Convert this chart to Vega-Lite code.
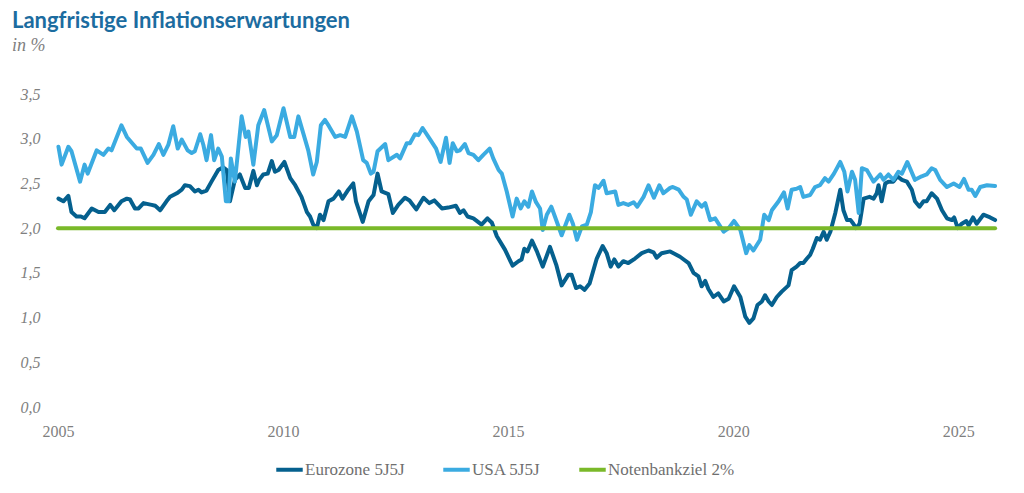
{
  "$schema": "https://vega.github.io/schema/vega-lite/v6.json",
  "width": 938,
  "height": 313,
  "autosize": "none",
  "padding": {"left": 58, "top": 94, "right": 28, "bottom": 86},
  "title": {
    "text": "Langfristige Inflationserwartungen",
    "subtitle": "in %",
    "anchor": "start",
    "frame": "group",
    "dx": -46,
    "offset": 30,
    "font": "Lato",
    "fontSize": 22,
    "fontWeight": "bold",
    "color": "#1C6CA0",
    "subtitleFont": "Liberation Serif",
    "subtitleFontStyle": "italic",
    "subtitleFontSize": 18,
    "subtitleColor": "#7F7F7F",
    "subtitlePadding": 4
  },
  "config": {
    "view": {"stroke": null},
    "axis": {"grid": false, "domain": false, "ticks": false, "labelFont": "Liberation Serif", "labelFontSize": 16, "labelColor": "#7F7F7F"}
  },
  "data": {
    "values": [
      {"serie": "Eurozone 5J5J", "jahr": 2005.01, "wert": 2.33},
      {"serie": "Eurozone 5J5J", "jahr": 2005.12, "wert": 2.30},
      {"serie": "Eurozone 5J5J", "jahr": 2005.23, "wert": 2.36},
      {"serie": "Eurozone 5J5J", "jahr": 2005.30, "wert": 2.18},
      {"serie": "Eurozone 5J5J", "jahr": 2005.41, "wert": 2.13},
      {"serie": "Eurozone 5J5J", "jahr": 2005.51, "wert": 2.13},
      {"serie": "Eurozone 5J5J", "jahr": 2005.59, "wert": 2.11},
      {"serie": "Eurozone 5J5J", "jahr": 2005.75, "wert": 2.22},
      {"serie": "Eurozone 5J5J", "jahr": 2005.90, "wert": 2.18},
      {"serie": "Eurozone 5J5J", "jahr": 2006.04, "wert": 2.18},
      {"serie": "Eurozone 5J5J", "jahr": 2006.16, "wert": 2.26},
      {"serie": "Eurozone 5J5J", "jahr": 2006.25, "wert": 2.20},
      {"serie": "Eurozone 5J5J", "jahr": 2006.41, "wert": 2.30},
      {"serie": "Eurozone 5J5J", "jahr": 2006.53, "wert": 2.33},
      {"serie": "Eurozone 5J5J", "jahr": 2006.60, "wert": 2.32},
      {"serie": "Eurozone 5J5J", "jahr": 2006.71, "wert": 2.22},
      {"serie": "Eurozone 5J5J", "jahr": 2006.79, "wert": 2.22},
      {"serie": "Eurozone 5J5J", "jahr": 2006.90, "wert": 2.28},
      {"serie": "Eurozone 5J5J", "jahr": 2007.08, "wert": 2.26},
      {"serie": "Eurozone 5J5J", "jahr": 2007.16, "wert": 2.25},
      {"serie": "Eurozone 5J5J", "jahr": 2007.27, "wert": 2.20},
      {"serie": "Eurozone 5J5J", "jahr": 2007.41, "wert": 2.30},
      {"serie": "Eurozone 5J5J", "jahr": 2007.49, "wert": 2.35},
      {"serie": "Eurozone 5J5J", "jahr": 2007.64, "wert": 2.39},
      {"serie": "Eurozone 5J5J", "jahr": 2007.75, "wert": 2.43},
      {"serie": "Eurozone 5J5J", "jahr": 2007.82, "wert": 2.48},
      {"serie": "Eurozone 5J5J", "jahr": 2007.93, "wert": 2.47},
      {"serie": "Eurozone 5J5J", "jahr": 2008.04, "wert": 2.41},
      {"serie": "Eurozone 5J5J", "jahr": 2008.12, "wert": 2.43},
      {"serie": "Eurozone 5J5J", "jahr": 2008.19, "wert": 2.40},
      {"serie": "Eurozone 5J5J", "jahr": 2008.30, "wert": 2.42},
      {"serie": "Eurozone 5J5J", "jahr": 2008.41, "wert": 2.52},
      {"serie": "Eurozone 5J5J", "jahr": 2008.56, "wert": 2.65},
      {"serie": "Eurozone 5J5J", "jahr": 2008.67, "wert": 2.68},
      {"serie": "Eurozone 5J5J", "jahr": 2008.75, "wert": 2.65},
      {"serie": "Eurozone 5J5J", "jahr": 2008.82, "wert": 2.30},
      {"serie": "Eurozone 5J5J", "jahr": 2008.93, "wert": 2.54},
      {"serie": "Eurozone 5J5J", "jahr": 2009.04, "wert": 2.60},
      {"serie": "Eurozone 5J5J", "jahr": 2009.16, "wert": 2.45},
      {"serie": "Eurozone 5J5J", "jahr": 2009.24, "wert": 2.45},
      {"serie": "Eurozone 5J5J", "jahr": 2009.34, "wert": 2.64},
      {"serie": "Eurozone 5J5J", "jahr": 2009.42, "wert": 2.48},
      {"serie": "Eurozone 5J5J", "jahr": 2009.47, "wert": 2.54},
      {"serie": "Eurozone 5J5J", "jahr": 2009.56, "wert": 2.60},
      {"serie": "Eurozone 5J5J", "jahr": 2009.66, "wert": 2.61},
      {"serie": "Eurozone 5J5J", "jahr": 2009.75, "wert": 2.75},
      {"serie": "Eurozone 5J5J", "jahr": 2009.82, "wert": 2.63},
      {"serie": "Eurozone 5J5J", "jahr": 2009.90, "wert": 2.65},
      {"serie": "Eurozone 5J5J", "jahr": 2010.03, "wert": 2.74},
      {"serie": "Eurozone 5J5J", "jahr": 2010.16, "wert": 2.56},
      {"serie": "Eurozone 5J5J", "jahr": 2010.27, "wert": 2.48},
      {"serie": "Eurozone 5J5J", "jahr": 2010.41, "wert": 2.35},
      {"serie": "Eurozone 5J5J", "jahr": 2010.53, "wert": 2.18},
      {"serie": "Eurozone 5J5J", "jahr": 2010.60, "wert": 2.13},
      {"serie": "Eurozone 5J5J", "jahr": 2010.67, "wert": 2.04},
      {"serie": "Eurozone 5J5J", "jahr": 2010.75, "wert": 2.00},
      {"serie": "Eurozone 5J5J", "jahr": 2010.82, "wert": 2.15},
      {"serie": "Eurozone 5J5J", "jahr": 2010.90, "wert": 2.09},
      {"serie": "Eurozone 5J5J", "jahr": 2011.01, "wert": 2.30},
      {"serie": "Eurozone 5J5J", "jahr": 2011.12, "wert": 2.33},
      {"serie": "Eurozone 5J5J", "jahr": 2011.24, "wert": 2.41},
      {"serie": "Eurozone 5J5J", "jahr": 2011.32, "wert": 2.33},
      {"serie": "Eurozone 5J5J", "jahr": 2011.45, "wert": 2.43},
      {"serie": "Eurozone 5J5J", "jahr": 2011.56, "wert": 2.50},
      {"serie": "Eurozone 5J5J", "jahr": 2011.62, "wert": 2.30},
      {"serie": "Eurozone 5J5J", "jahr": 2011.77, "wert": 2.07},
      {"serie": "Eurozone 5J5J", "jahr": 2011.90, "wert": 2.30},
      {"serie": "Eurozone 5J5J", "jahr": 2012.01, "wert": 2.37},
      {"serie": "Eurozone 5J5J", "jahr": 2012.10, "wert": 2.61},
      {"serie": "Eurozone 5J5J", "jahr": 2012.19, "wert": 2.41},
      {"serie": "Eurozone 5J5J", "jahr": 2012.34, "wert": 2.38},
      {"serie": "Eurozone 5J5J", "jahr": 2012.44, "wert": 2.17},
      {"serie": "Eurozone 5J5J", "jahr": 2012.56, "wert": 2.26},
      {"serie": "Eurozone 5J5J", "jahr": 2012.71, "wert": 2.34},
      {"serie": "Eurozone 5J5J", "jahr": 2012.81, "wert": 2.31},
      {"serie": "Eurozone 5J5J", "jahr": 2012.96, "wert": 2.21},
      {"serie": "Eurozone 5J5J", "jahr": 2013.12, "wert": 2.34},
      {"serie": "Eurozone 5J5J", "jahr": 2013.25, "wert": 2.28},
      {"serie": "Eurozone 5J5J", "jahr": 2013.36, "wert": 2.31},
      {"serie": "Eurozone 5J5J", "jahr": 2013.53, "wert": 2.22},
      {"serie": "Eurozone 5J5J", "jahr": 2013.67, "wert": 2.23},
      {"serie": "Eurozone 5J5J", "jahr": 2013.84, "wert": 2.25},
      {"serie": "Eurozone 5J5J", "jahr": 2013.93, "wert": 2.17},
      {"serie": "Eurozone 5J5J", "jahr": 2014.01, "wert": 2.20},
      {"serie": "Eurozone 5J5J", "jahr": 2014.10, "wert": 2.13},
      {"serie": "Eurozone 5J5J", "jahr": 2014.23, "wert": 2.11},
      {"serie": "Eurozone 5J5J", "jahr": 2014.41, "wert": 2.04},
      {"serie": "Eurozone 5J5J", "jahr": 2014.54, "wert": 2.11},
      {"serie": "Eurozone 5J5J", "jahr": 2014.64, "wert": 2.06},
      {"serie": "Eurozone 5J5J", "jahr": 2014.75, "wert": 1.91},
      {"serie": "Eurozone 5J5J", "jahr": 2014.93, "wert": 1.76},
      {"serie": "Eurozone 5J5J", "jahr": 2015.10, "wert": 1.58},
      {"serie": "Eurozone 5J5J", "jahr": 2015.23, "wert": 1.63},
      {"serie": "Eurozone 5J5J", "jahr": 2015.30, "wert": 1.65},
      {"serie": "Eurozone 5J5J", "jahr": 2015.36, "wert": 1.77},
      {"serie": "Eurozone 5J5J", "jahr": 2015.43, "wert": 1.74},
      {"serie": "Eurozone 5J5J", "jahr": 2015.53, "wert": 1.86},
      {"serie": "Eurozone 5J5J", "jahr": 2015.64, "wert": 1.74},
      {"serie": "Eurozone 5J5J", "jahr": 2015.77, "wert": 1.57},
      {"serie": "Eurozone 5J5J", "jahr": 2015.93, "wert": 1.79},
      {"serie": "Eurozone 5J5J", "jahr": 2016.07, "wert": 1.59},
      {"serie": "Eurozone 5J5J", "jahr": 2016.19, "wert": 1.36},
      {"serie": "Eurozone 5J5J", "jahr": 2016.34, "wert": 1.48},
      {"serie": "Eurozone 5J5J", "jahr": 2016.41, "wert": 1.48},
      {"serie": "Eurozone 5J5J", "jahr": 2016.51, "wert": 1.33},
      {"serie": "Eurozone 5J5J", "jahr": 2016.60, "wert": 1.35},
      {"serie": "Eurozone 5J5J", "jahr": 2016.70, "wert": 1.31},
      {"serie": "Eurozone 5J5J", "jahr": 2016.81, "wert": 1.38},
      {"serie": "Eurozone 5J5J", "jahr": 2016.97, "wert": 1.66},
      {"serie": "Eurozone 5J5J", "jahr": 2017.10, "wert": 1.80},
      {"serie": "Eurozone 5J5J", "jahr": 2017.19, "wert": 1.72},
      {"serie": "Eurozone 5J5J", "jahr": 2017.28, "wert": 1.57},
      {"serie": "Eurozone 5J5J", "jahr": 2017.36, "wert": 1.65},
      {"serie": "Eurozone 5J5J", "jahr": 2017.45, "wert": 1.57},
      {"serie": "Eurozone 5J5J", "jahr": 2017.56, "wert": 1.63},
      {"serie": "Eurozone 5J5J", "jahr": 2017.67, "wert": 1.61},
      {"serie": "Eurozone 5J5J", "jahr": 2017.82, "wert": 1.66},
      {"serie": "Eurozone 5J5J", "jahr": 2017.97, "wert": 1.72},
      {"serie": "Eurozone 5J5J", "jahr": 2018.12, "wert": 1.75},
      {"serie": "Eurozone 5J5J", "jahr": 2018.23, "wert": 1.73},
      {"serie": "Eurozone 5J5J", "jahr": 2018.30, "wert": 1.67},
      {"serie": "Eurozone 5J5J", "jahr": 2018.41, "wert": 1.72},
      {"serie": "Eurozone 5J5J", "jahr": 2018.60, "wert": 1.74},
      {"serie": "Eurozone 5J5J", "jahr": 2018.82, "wert": 1.68},
      {"serie": "Eurozone 5J5J", "jahr": 2019.01, "wert": 1.61},
      {"serie": "Eurozone 5J5J", "jahr": 2019.12, "wert": 1.50},
      {"serie": "Eurozone 5J5J", "jahr": 2019.23, "wert": 1.46},
      {"serie": "Eurozone 5J5J", "jahr": 2019.30, "wert": 1.35},
      {"serie": "Eurozone 5J5J", "jahr": 2019.38, "wert": 1.41},
      {"serie": "Eurozone 5J5J", "jahr": 2019.45, "wert": 1.32},
      {"serie": "Eurozone 5J5J", "jahr": 2019.56, "wert": 1.23},
      {"serie": "Eurozone 5J5J", "jahr": 2019.67, "wert": 1.27},
      {"serie": "Eurozone 5J5J", "jahr": 2019.79, "wert": 1.18},
      {"serie": "Eurozone 5J5J", "jahr": 2019.90, "wert": 1.21},
      {"serie": "Eurozone 5J5J", "jahr": 2020.02, "wert": 1.35},
      {"serie": "Eurozone 5J5J", "jahr": 2020.16, "wert": 1.23},
      {"serie": "Eurozone 5J5J", "jahr": 2020.27, "wert": 1.01},
      {"serie": "Eurozone 5J5J", "jahr": 2020.36, "wert": 0.94},
      {"serie": "Eurozone 5J5J", "jahr": 2020.45, "wert": 0.99},
      {"serie": "Eurozone 5J5J", "jahr": 2020.54, "wert": 1.14},
      {"serie": "Eurozone 5J5J", "jahr": 2020.64, "wert": 1.18},
      {"serie": "Eurozone 5J5J", "jahr": 2020.71, "wert": 1.25},
      {"serie": "Eurozone 5J5J", "jahr": 2020.79, "wert": 1.18},
      {"serie": "Eurozone 5J5J", "jahr": 2020.86, "wert": 1.14},
      {"serie": "Eurozone 5J5J", "jahr": 2020.97, "wert": 1.23},
      {"serie": "Eurozone 5J5J", "jahr": 2021.08, "wert": 1.29},
      {"serie": "Eurozone 5J5J", "jahr": 2021.23, "wert": 1.36},
      {"serie": "Eurozone 5J5J", "jahr": 2021.30, "wert": 1.53},
      {"serie": "Eurozone 5J5J", "jahr": 2021.41, "wert": 1.57},
      {"serie": "Eurozone 5J5J", "jahr": 2021.49, "wert": 1.61},
      {"serie": "Eurozone 5J5J", "jahr": 2021.56, "wert": 1.61},
      {"serie": "Eurozone 5J5J", "jahr": 2021.64, "wert": 1.66},
      {"serie": "Eurozone 5J5J", "jahr": 2021.71, "wert": 1.70},
      {"serie": "Eurozone 5J5J", "jahr": 2021.77, "wert": 1.77},
      {"serie": "Eurozone 5J5J", "jahr": 2021.86, "wert": 1.89},
      {"serie": "Eurozone 5J5J", "jahr": 2021.93, "wert": 1.87},
      {"serie": "Eurozone 5J5J", "jahr": 2022.01, "wert": 1.96},
      {"serie": "Eurozone 5J5J", "jahr": 2022.08, "wert": 1.87},
      {"serie": "Eurozone 5J5J", "jahr": 2022.16, "wert": 1.96},
      {"serie": "Eurozone 5J5J", "jahr": 2022.27, "wert": 2.17},
      {"serie": "Eurozone 5J5J", "jahr": 2022.38, "wert": 2.43},
      {"serie": "Eurozone 5J5J", "jahr": 2022.45, "wert": 2.20},
      {"serie": "Eurozone 5J5J", "jahr": 2022.53, "wert": 2.09},
      {"serie": "Eurozone 5J5J", "jahr": 2022.61, "wert": 2.09},
      {"serie": "Eurozone 5J5J", "jahr": 2022.67, "wert": 2.05},
      {"serie": "Eurozone 5J5J", "jahr": 2022.73, "wert": 2.00},
      {"serie": "Eurozone 5J5J", "jahr": 2022.81, "wert": 2.05},
      {"serie": "Eurozone 5J5J", "jahr": 2022.90, "wert": 2.33},
      {"serie": "Eurozone 5J5J", "jahr": 2023.03, "wert": 2.35},
      {"serie": "Eurozone 5J5J", "jahr": 2023.12, "wert": 2.33},
      {"serie": "Eurozone 5J5J", "jahr": 2023.19, "wert": 2.39},
      {"serie": "Eurozone 5J5J", "jahr": 2023.23, "wert": 2.48},
      {"serie": "Eurozone 5J5J", "jahr": 2023.30, "wert": 2.30},
      {"serie": "Eurozone 5J5J", "jahr": 2023.38, "wert": 2.50},
      {"serie": "Eurozone 5J5J", "jahr": 2023.45, "wert": 2.52},
      {"serie": "Eurozone 5J5J", "jahr": 2023.56, "wert": 2.52},
      {"serie": "Eurozone 5J5J", "jahr": 2023.65, "wert": 2.58},
      {"serie": "Eurozone 5J5J", "jahr": 2023.75, "wert": 2.54},
      {"serie": "Eurozone 5J5J", "jahr": 2023.86, "wert": 2.52},
      {"serie": "Eurozone 5J5J", "jahr": 2023.97, "wert": 2.43},
      {"serie": "Eurozone 5J5J", "jahr": 2024.04, "wert": 2.30},
      {"serie": "Eurozone 5J5J", "jahr": 2024.14, "wert": 2.24},
      {"serie": "Eurozone 5J5J", "jahr": 2024.23, "wert": 2.30},
      {"serie": "Eurozone 5J5J", "jahr": 2024.30, "wert": 2.30},
      {"serie": "Eurozone 5J5J", "jahr": 2024.41, "wert": 2.39},
      {"serie": "Eurozone 5J5J", "jahr": 2024.53, "wert": 2.33},
      {"serie": "Eurozone 5J5J", "jahr": 2024.64, "wert": 2.20},
      {"serie": "Eurozone 5J5J", "jahr": 2024.75, "wert": 2.11},
      {"serie": "Eurozone 5J5J", "jahr": 2024.86, "wert": 2.09},
      {"serie": "Eurozone 5J5J", "jahr": 2024.91, "wert": 2.12},
      {"serie": "Eurozone 5J5J", "jahr": 2024.99, "wert": 2.00},
      {"serie": "Eurozone 5J5J", "jahr": 2025.08, "wert": 2.05},
      {"serie": "Eurozone 5J5J", "jahr": 2025.18, "wert": 2.08},
      {"serie": "Eurozone 5J5J", "jahr": 2025.23, "wert": 2.03},
      {"serie": "Eurozone 5J5J", "jahr": 2025.33, "wert": 2.12},
      {"serie": "Eurozone 5J5J", "jahr": 2025.41, "wert": 2.05},
      {"serie": "Eurozone 5J5J", "jahr": 2025.56, "wert": 2.15},
      {"serie": "Eurozone 5J5J", "jahr": 2025.71, "wert": 2.12},
      {"serie": "Eurozone 5J5J", "jahr": 2025.82, "wert": 2.09},
      {"serie": "USA 5J5J", "jahr": 2005.01, "wert": 2.91},
      {"serie": "USA 5J5J", "jahr": 2005.08, "wert": 2.71},
      {"serie": "USA 5J5J", "jahr": 2005.23, "wert": 2.91},
      {"serie": "USA 5J5J", "jahr": 2005.30, "wert": 2.86},
      {"serie": "USA 5J5J", "jahr": 2005.49, "wert": 2.52},
      {"serie": "USA 5J5J", "jahr": 2005.59, "wert": 2.71},
      {"serie": "USA 5J5J", "jahr": 2005.66, "wert": 2.61},
      {"serie": "USA 5J5J", "jahr": 2005.86, "wert": 2.87},
      {"serie": "USA 5J5J", "jahr": 2006.01, "wert": 2.82},
      {"serie": "USA 5J5J", "jahr": 2006.12, "wert": 2.89},
      {"serie": "USA 5J5J", "jahr": 2006.19, "wert": 2.87},
      {"serie": "USA 5J5J", "jahr": 2006.41, "wert": 3.15},
      {"serie": "USA 5J5J", "jahr": 2006.53, "wert": 3.02},
      {"serie": "USA 5J5J", "jahr": 2006.75, "wert": 2.89},
      {"serie": "USA 5J5J", "jahr": 2006.84, "wert": 2.89},
      {"serie": "USA 5J5J", "jahr": 2006.99, "wert": 2.73},
      {"serie": "USA 5J5J", "jahr": 2007.12, "wert": 2.82},
      {"serie": "USA 5J5J", "jahr": 2007.24, "wert": 2.94},
      {"serie": "USA 5J5J", "jahr": 2007.34, "wert": 2.82},
      {"serie": "USA 5J5J", "jahr": 2007.45, "wert": 2.93},
      {"serie": "USA 5J5J", "jahr": 2007.56, "wert": 3.14},
      {"serie": "USA 5J5J", "jahr": 2007.66, "wert": 2.89},
      {"serie": "USA 5J5J", "jahr": 2007.75, "wert": 2.99},
      {"serie": "USA 5J5J", "jahr": 2007.88, "wert": 2.87},
      {"serie": "USA 5J5J", "jahr": 2007.97, "wert": 2.84},
      {"serie": "USA 5J5J", "jahr": 2008.04, "wert": 2.86},
      {"serie": "USA 5J5J", "jahr": 2008.16, "wert": 3.05},
      {"serie": "USA 5J5J", "jahr": 2008.23, "wert": 2.93},
      {"serie": "USA 5J5J", "jahr": 2008.30, "wert": 2.76},
      {"serie": "USA 5J5J", "jahr": 2008.40, "wert": 3.04},
      {"serie": "USA 5J5J", "jahr": 2008.47, "wert": 2.76},
      {"serie": "USA 5J5J", "jahr": 2008.56, "wert": 2.89},
      {"serie": "USA 5J5J", "jahr": 2008.64, "wert": 2.80},
      {"serie": "USA 5J5J", "jahr": 2008.73, "wert": 2.30},
      {"serie": "USA 5J5J", "jahr": 2008.79, "wert": 2.30},
      {"serie": "USA 5J5J", "jahr": 2008.84, "wert": 2.78},
      {"serie": "USA 5J5J", "jahr": 2008.93, "wert": 2.52},
      {"serie": "USA 5J5J", "jahr": 2009.08, "wert": 3.25},
      {"serie": "USA 5J5J", "jahr": 2009.17, "wert": 3.02},
      {"serie": "USA 5J5J", "jahr": 2009.23, "wert": 3.08},
      {"serie": "USA 5J5J", "jahr": 2009.34, "wert": 2.71},
      {"serie": "USA 5J5J", "jahr": 2009.45, "wert": 3.15},
      {"serie": "USA 5J5J", "jahr": 2009.58, "wert": 3.32},
      {"serie": "USA 5J5J", "jahr": 2009.75, "wert": 2.97},
      {"serie": "USA 5J5J", "jahr": 2009.86, "wert": 3.04},
      {"serie": "USA 5J5J", "jahr": 2010.01, "wert": 3.34},
      {"serie": "USA 5J5J", "jahr": 2010.16, "wert": 3.02},
      {"serie": "USA 5J5J", "jahr": 2010.25, "wert": 3.02},
      {"serie": "USA 5J5J", "jahr": 2010.34, "wert": 3.25},
      {"serie": "USA 5J5J", "jahr": 2010.45, "wert": 3.06},
      {"serie": "USA 5J5J", "jahr": 2010.56, "wert": 2.87},
      {"serie": "USA 5J5J", "jahr": 2010.67, "wert": 2.60},
      {"serie": "USA 5J5J", "jahr": 2010.75, "wert": 2.74},
      {"serie": "USA 5J5J", "jahr": 2010.84, "wert": 3.15},
      {"serie": "USA 5J5J", "jahr": 2010.93, "wert": 3.21},
      {"serie": "USA 5J5J", "jahr": 2011.02, "wert": 3.14},
      {"serie": "USA 5J5J", "jahr": 2011.16, "wert": 3.02},
      {"serie": "USA 5J5J", "jahr": 2011.27, "wert": 3.04},
      {"serie": "USA 5J5J", "jahr": 2011.38, "wert": 3.02},
      {"serie": "USA 5J5J", "jahr": 2011.53, "wert": 3.25},
      {"serie": "USA 5J5J", "jahr": 2011.64, "wert": 3.08},
      {"serie": "USA 5J5J", "jahr": 2011.78, "wert": 2.76},
      {"serie": "USA 5J5J", "jahr": 2011.86, "wert": 2.73},
      {"serie": "USA 5J5J", "jahr": 2011.95, "wert": 2.61},
      {"serie": "USA 5J5J", "jahr": 2012.01, "wert": 2.63},
      {"serie": "USA 5J5J", "jahr": 2012.10, "wert": 2.86},
      {"serie": "USA 5J5J", "jahr": 2012.27, "wert": 2.94},
      {"serie": "USA 5J5J", "jahr": 2012.34, "wert": 2.76},
      {"serie": "USA 5J5J", "jahr": 2012.53, "wert": 2.82},
      {"serie": "USA 5J5J", "jahr": 2012.60, "wert": 2.78},
      {"serie": "USA 5J5J", "jahr": 2012.75, "wert": 2.95},
      {"serie": "USA 5J5J", "jahr": 2012.82, "wert": 2.95},
      {"serie": "USA 5J5J", "jahr": 2012.93, "wert": 3.05},
      {"serie": "USA 5J5J", "jahr": 2013.01, "wert": 3.04},
      {"serie": "USA 5J5J", "jahr": 2013.10, "wert": 3.12},
      {"serie": "USA 5J5J", "jahr": 2013.27, "wert": 2.99},
      {"serie": "USA 5J5J", "jahr": 2013.40, "wert": 2.89},
      {"serie": "USA 5J5J", "jahr": 2013.50, "wert": 2.74},
      {"serie": "USA 5J5J", "jahr": 2013.62, "wert": 3.01},
      {"serie": "USA 5J5J", "jahr": 2013.70, "wert": 2.73},
      {"serie": "USA 5J5J", "jahr": 2013.77, "wert": 2.95},
      {"serie": "USA 5J5J", "jahr": 2013.86, "wert": 2.86},
      {"serie": "USA 5J5J", "jahr": 2013.93, "wert": 2.87},
      {"serie": "USA 5J5J", "jahr": 2014.04, "wert": 2.94},
      {"serie": "USA 5J5J", "jahr": 2014.12, "wert": 2.84},
      {"serie": "USA 5J5J", "jahr": 2014.23, "wert": 2.82},
      {"serie": "USA 5J5J", "jahr": 2014.34, "wert": 2.76},
      {"serie": "USA 5J5J", "jahr": 2014.45, "wert": 2.82},
      {"serie": "USA 5J5J", "jahr": 2014.59, "wert": 2.89},
      {"serie": "USA 5J5J", "jahr": 2014.67, "wert": 2.78},
      {"serie": "USA 5J5J", "jahr": 2014.79, "wert": 2.65},
      {"serie": "USA 5J5J", "jahr": 2014.86, "wert": 2.61},
      {"serie": "USA 5J5J", "jahr": 2014.97, "wert": 2.41},
      {"serie": "USA 5J5J", "jahr": 2015.10, "wert": 2.13},
      {"serie": "USA 5J5J", "jahr": 2015.19, "wert": 2.33},
      {"serie": "USA 5J5J", "jahr": 2015.28, "wert": 2.22},
      {"serie": "USA 5J5J", "jahr": 2015.36, "wert": 2.30},
      {"serie": "USA 5J5J", "jahr": 2015.45, "wert": 2.24},
      {"serie": "USA 5J5J", "jahr": 2015.53, "wert": 2.41},
      {"serie": "USA 5J5J", "jahr": 2015.62, "wert": 2.29},
      {"serie": "USA 5J5J", "jahr": 2015.71, "wert": 2.22},
      {"serie": "USA 5J5J", "jahr": 2015.77, "wert": 1.98},
      {"serie": "USA 5J5J", "jahr": 2015.86, "wert": 2.15},
      {"serie": "USA 5J5J", "jahr": 2015.96, "wert": 2.24},
      {"serie": "USA 5J5J", "jahr": 2016.04, "wert": 2.13},
      {"serie": "USA 5J5J", "jahr": 2016.19, "wert": 1.92},
      {"serie": "USA 5J5J", "jahr": 2016.36, "wert": 2.15},
      {"serie": "USA 5J5J", "jahr": 2016.44, "wert": 2.05},
      {"serie": "USA 5J5J", "jahr": 2016.53, "wert": 1.87},
      {"serie": "USA 5J5J", "jahr": 2016.64, "wert": 2.02},
      {"serie": "USA 5J5J", "jahr": 2016.75, "wert": 2.04},
      {"serie": "USA 5J5J", "jahr": 2016.84, "wert": 2.18},
      {"serie": "USA 5J5J", "jahr": 2016.93, "wert": 2.48},
      {"serie": "USA 5J5J", "jahr": 2017.01, "wert": 2.45},
      {"serie": "USA 5J5J", "jahr": 2017.12, "wert": 2.53},
      {"serie": "USA 5J5J", "jahr": 2017.19, "wert": 2.39},
      {"serie": "USA 5J5J", "jahr": 2017.38, "wert": 2.41},
      {"serie": "USA 5J5J", "jahr": 2017.45, "wert": 2.26},
      {"serie": "USA 5J5J", "jahr": 2017.56, "wert": 2.28},
      {"serie": "USA 5J5J", "jahr": 2017.67, "wert": 2.26},
      {"serie": "USA 5J5J", "jahr": 2017.79, "wert": 2.29},
      {"serie": "USA 5J5J", "jahr": 2017.87, "wert": 2.24},
      {"serie": "USA 5J5J", "jahr": 2018.01, "wert": 2.35},
      {"serie": "USA 5J5J", "jahr": 2018.12, "wert": 2.48},
      {"serie": "USA 5J5J", "jahr": 2018.24, "wert": 2.34},
      {"serie": "USA 5J5J", "jahr": 2018.36, "wert": 2.48},
      {"serie": "USA 5J5J", "jahr": 2018.45, "wert": 2.39},
      {"serie": "USA 5J5J", "jahr": 2018.60, "wert": 2.45},
      {"serie": "USA 5J5J", "jahr": 2018.66, "wert": 2.46},
      {"serie": "USA 5J5J", "jahr": 2018.79, "wert": 2.43},
      {"serie": "USA 5J5J", "jahr": 2018.90, "wert": 2.35},
      {"serie": "USA 5J5J", "jahr": 2018.97, "wert": 2.32},
      {"serie": "USA 5J5J", "jahr": 2019.06, "wert": 2.15},
      {"serie": "USA 5J5J", "jahr": 2019.19, "wert": 2.30},
      {"serie": "USA 5J5J", "jahr": 2019.30, "wert": 2.24},
      {"serie": "USA 5J5J", "jahr": 2019.38, "wert": 2.28},
      {"serie": "USA 5J5J", "jahr": 2019.49, "wert": 2.09},
      {"serie": "USA 5J5J", "jahr": 2019.60, "wert": 2.11},
      {"serie": "USA 5J5J", "jahr": 2019.79, "wert": 1.96},
      {"serie": "USA 5J5J", "jahr": 2019.90, "wert": 2.00},
      {"serie": "USA 5J5J", "jahr": 2020.02, "wert": 2.08},
      {"serie": "USA 5J5J", "jahr": 2020.16, "wert": 1.98},
      {"serie": "USA 5J5J", "jahr": 2020.29, "wert": 1.72},
      {"serie": "USA 5J5J", "jahr": 2020.36, "wert": 1.81},
      {"serie": "USA 5J5J", "jahr": 2020.45, "wert": 1.75},
      {"serie": "USA 5J5J", "jahr": 2020.60, "wert": 1.87},
      {"serie": "USA 5J5J", "jahr": 2020.69, "wert": 2.15},
      {"serie": "USA 5J5J", "jahr": 2020.79, "wert": 2.09},
      {"serie": "USA 5J5J", "jahr": 2020.86, "wert": 2.20},
      {"serie": "USA 5J5J", "jahr": 2021.01, "wert": 2.30},
      {"serie": "USA 5J5J", "jahr": 2021.13, "wert": 2.40},
      {"serie": "USA 5J5J", "jahr": 2021.21, "wert": 2.22},
      {"serie": "USA 5J5J", "jahr": 2021.30, "wert": 2.43},
      {"serie": "USA 5J5J", "jahr": 2021.41, "wert": 2.44},
      {"serie": "USA 5J5J", "jahr": 2021.49, "wert": 2.46},
      {"serie": "USA 5J5J", "jahr": 2021.56, "wert": 2.35},
      {"serie": "USA 5J5J", "jahr": 2021.71, "wert": 2.37},
      {"serie": "USA 5J5J", "jahr": 2021.82, "wert": 2.46},
      {"serie": "USA 5J5J", "jahr": 2021.93, "wert": 2.48},
      {"serie": "USA 5J5J", "jahr": 2022.04, "wert": 2.56},
      {"serie": "USA 5J5J", "jahr": 2022.12, "wert": 2.52},
      {"serie": "USA 5J5J", "jahr": 2022.24, "wert": 2.61},
      {"serie": "USA 5J5J", "jahr": 2022.38, "wert": 2.74},
      {"serie": "USA 5J5J", "jahr": 2022.47, "wert": 2.63},
      {"serie": "USA 5J5J", "jahr": 2022.54, "wert": 2.41},
      {"serie": "USA 5J5J", "jahr": 2022.64, "wert": 2.63},
      {"serie": "USA 5J5J", "jahr": 2022.71, "wert": 2.54},
      {"serie": "USA 5J5J", "jahr": 2022.79, "wert": 2.17},
      {"serie": "USA 5J5J", "jahr": 2022.86, "wert": 2.67},
      {"serie": "USA 5J5J", "jahr": 2022.97, "wert": 2.65},
      {"serie": "USA 5J5J", "jahr": 2023.12, "wert": 2.52},
      {"serie": "USA 5J5J", "jahr": 2023.27, "wert": 2.60},
      {"serie": "USA 5J5J", "jahr": 2023.34, "wert": 2.54},
      {"serie": "USA 5J5J", "jahr": 2023.45, "wert": 2.60},
      {"serie": "USA 5J5J", "jahr": 2023.56, "wert": 2.54},
      {"serie": "USA 5J5J", "jahr": 2023.67, "wert": 2.63},
      {"serie": "USA 5J5J", "jahr": 2023.75, "wert": 2.61},
      {"serie": "USA 5J5J", "jahr": 2023.87, "wert": 2.74},
      {"serie": "USA 5J5J", "jahr": 2024.04, "wert": 2.54},
      {"serie": "USA 5J5J", "jahr": 2024.19, "wert": 2.58},
      {"serie": "USA 5J5J", "jahr": 2024.30, "wert": 2.60},
      {"serie": "USA 5J5J", "jahr": 2024.41, "wert": 2.67},
      {"serie": "USA 5J5J", "jahr": 2024.49, "wert": 2.65},
      {"serie": "USA 5J5J", "jahr": 2024.60, "wert": 2.54},
      {"serie": "USA 5J5J", "jahr": 2024.75, "wert": 2.46},
      {"serie": "USA 5J5J", "jahr": 2024.90, "wert": 2.50},
      {"serie": "USA 5J5J", "jahr": 2025.03, "wert": 2.46},
      {"serie": "USA 5J5J", "jahr": 2025.13, "wert": 2.55},
      {"serie": "USA 5J5J", "jahr": 2025.23, "wert": 2.43},
      {"serie": "USA 5J5J", "jahr": 2025.30, "wert": 2.43},
      {"serie": "USA 5J5J", "jahr": 2025.38, "wert": 2.36},
      {"serie": "USA 5J5J", "jahr": 2025.49, "wert": 2.46},
      {"serie": "USA 5J5J", "jahr": 2025.64, "wert": 2.48},
      {"serie": "USA 5J5J", "jahr": 2025.82, "wert": 2.47},
      {"serie": "Notenbankziel 2%", "jahr": 2005.0, "wert": 2.0},
      {"serie": "Notenbankziel 2%", "jahr": 2025.82, "wert": 2.0}
    ]
  },
  "mark": {"type": "line", "strokeWidth": 4, "strokeJoin": "round", "strokeCap": "round"},
  "encoding": {
    "x": {
      "field": "jahr",
      "type": "quantitative",
      "scale": {"domain": [2005, 2025.84], "nice": false, "zero": false},
      "axis": {"title": null, "values": [2005, 2010, 2015, 2020, 2025], "format": "d", "labelPadding": 16, "labelFlush": false}
    },
    "y": {
      "field": "wert",
      "type": "quantitative",
      "scale": {"domain": [0, 3.5], "nice": false},
      "axis": {"title": null, "values": [0, 0.5, 1, 1.5, 2, 2.5, 3, 3.5], "labelExpr": "replace(format(datum.value, '.1f'), '.', ',')", "labelPadding": 18, "labelFontStyle": "italic"}
    },
    "color": {
      "field": "serie",
      "type": "nominal",
      "scale": {"domain": ["Eurozone 5J5J", "USA 5J5J", "Notenbankziel 2%"], "range": ["#05608E", "#3BABE1", "#7AB929"]},
      "legend": {
        "title": null,
        "orient": "none",
        "direction": "horizontal",
        "legendX": 216,
        "legendY": 360,
        "symbolType": "stroke",
        "symbolSize": 700,
        "symbolStrokeWidth": 4,
        "labelFont": "Liberation Serif",
        "labelFontSize": 17,
        "labelColor": "#6F6F6F",
        "labelOffset": 0,
        "columnPadding": 30
      }
    }
  }
}
